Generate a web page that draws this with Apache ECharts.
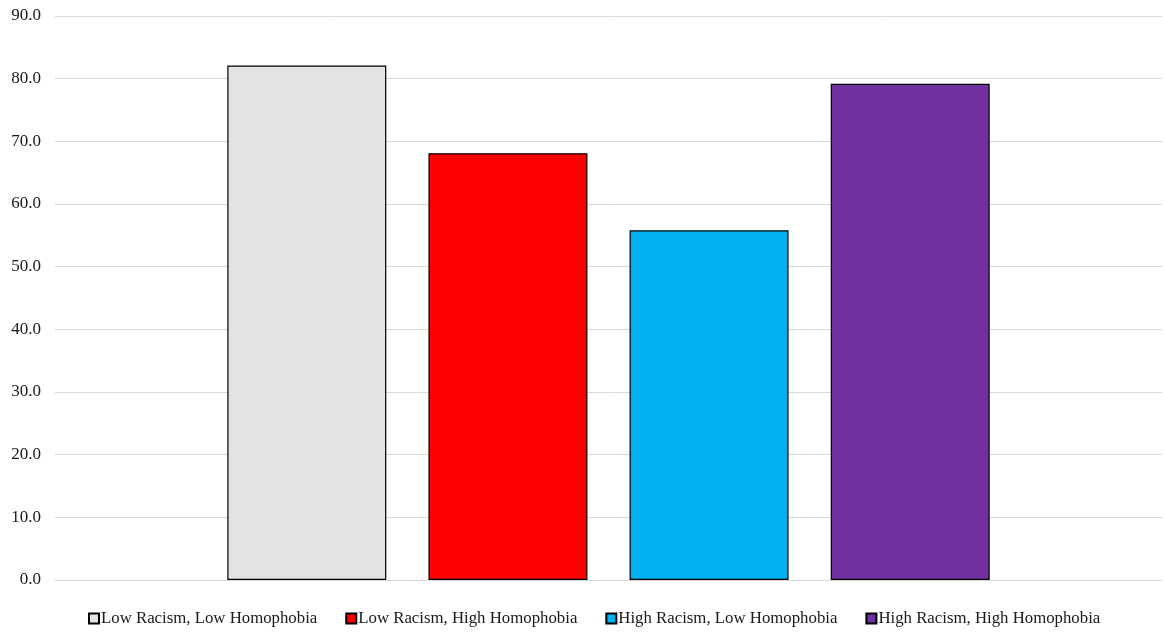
<!DOCTYPE html>
<html><head><meta charset="utf-8">
<script src="https://cdn.jsdelivr.net/npm/echarts@6/dist/echarts.min.js"></script>
<style>html,body{margin:0;padding:0;background:#fff}#c{width:1165px;height:633px}</style>
</head><body><div id="c"></div>
<script>
const seriesNames = ["Low Racism, Low Homophobia","Low Racism, High Homophobia","High Racism, Low Homophobia","High Racism, High Homophobia"];
const values = [82.1, 68.1, 55.8, 79.2];
const colors = ["#E3E3E3","#FF0000","#00B0F0","#7030A0"];
const categories = [""];
const yTicks = {min:0, max:90, interval:10};

const chart = echarts.init(document.getElementById('c'));
const font = "'Liberation Serif','Times New Roman',serif";
chart.setOption({
  animation:false,
  textStyle:{fontFamily:font},
  grid:{left:55,right:3,top:16,bottom:53,containLabel:false},
  legend:{bottom:1,left:83,icon:'rect',itemWidth:10,itemHeight:10,itemGap:28,
    textStyle:{fontFamily:font,fontSize:16.8,color:'#1a1a1a',padding:[0,0,0,-3]},
    data:seriesNames},
  xAxis:{type:'category',data:categories,axisTick:{show:false},axisLabel:{show:false},
    axisLine:{lineStyle:{color:'#d9d9d9',width:1}}},
  yAxis:{type:'value',min:yTicks.min,max:yTicks.max,interval:yTicks.interval,
    axisLabel:{formatter:v=>v.toFixed(1),fontFamily:font,fontSize:17,color:'#1a1a1a',margin:14},
    splitLine:{lineStyle:{color:'#d9d9d9',width:1}},axisLine:{show:false},axisTick:{show:false}},
  series: seriesNames.map((n,i)=>({
    name:n,type:'bar',data:[values[i]],barWidth:159,barGap:'26.5%',
    itemStyle:{color:colors[i],borderColor:'#000',borderWidth:1.2}
  }))
});
</script></body></html>
